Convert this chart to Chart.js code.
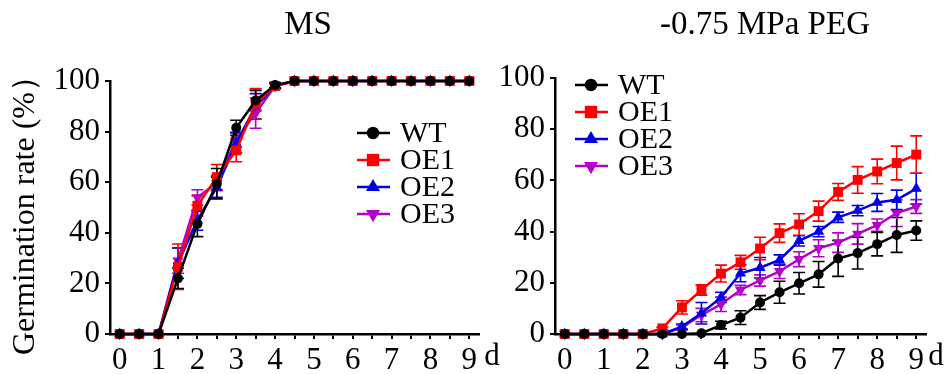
<!DOCTYPE html>
<html>
<head>
<meta charset="utf-8">
<script src="https://cdn.jsdelivr.net/npm/chart.js@4.4.1/dist/chart.umd.min.js"></script>
<style>
  html, body { margin: 0; padding: 0; background: #fff; }
  #wrap { position: relative; width: 945px; height: 374px; }
  canvas { position: absolute; top: 0; }
</style>
</head>
<body>
<div id="wrap">
  <canvas id="msChart" width="500" height="374" style="left:0"></canvas>
  <canvas id="pegChart" width="445" height="374" style="left:500px"></canvas>
</div>
<script>
// days after sowing
const days = [0, 0.5, 1, 1.5, 2, 2.5, 3, 3.5, 4, 4.5, 5, 5.5, 6, 6.5, 7, 7.5, 8, 8.5, 9];
const lines = ['WT', 'OE1', 'OE2', 'OE3'];
const yTicks = [0, 20, 40, 60, 80, 100];

// MS
const msWT     = [0, 0, 0, 22, 43.5, 59.4, 81.5, 92.3, 98.4, 100, 100, 100, 100, 100, 100, 100, 100, 100, 100];
const msWTErr  = [0, 0, 0, 4, 5, 6, 3, 4, 1, 0, 0, 0, 0, 0, 0, 0, 0, 0, 0];
const msOE1    = [0, 0, 0, 26.6, 50.7, 62, 72.6, 91, 98, 100, 100, 100, 100, 100, 100, 100, 100, 100, 100];
const msOE1Err = [0, 0, 0, 9, 4, 5, 4.5, 6, 1, 0, 0, 0, 0, 0, 0, 0, 0, 0, 0];
const msOE2    = [0, 0, 0, 28, 45, 58, 75.5, 90, 98, 100, 100, 100, 100, 100, 100, 100, 100, 100, 100];
const msOE2Err = [0, 0, 0, 6, 4, 4, 4, 5, 1, 0, 0, 0, 0, 0, 0, 0, 0, 0, 0];
const msOE3    = [0, 0, 0, 29, 54, 59.6, 76.8, 87.3, 98, 100, 100, 100, 100, 100, 100, 100, 100, 100, 100];
const msOE3Err = [0, 0, 0, 5, 3, 3, 3, 6, 1, 0, 0, 0, 0, 0, 0, 0, 0, 0, 0];

// -0.75 MPa PEG
const pegWT     = [0, 0, 0, 0, 0, 0, 0, 0.3, 3.5, 6.4, 12.3, 16.3, 19.8, 23.3, 29.5, 31.6, 35.1, 38.7, 40.4];
const pegWTErr  = [0, 0, 0, 0, 0, 0, 0, 0, 1.5, 2.7, 2.7, 4.3, 4.2, 5, 7, 6.2, 4.6, 6.8, 3.8];
const pegOE1    = [0, 0, 0, 0, 0, 2.2, 10.4, 17.2, 23.6, 28, 33.4, 39.4, 42.8, 48, 55.5, 60.2, 63.5, 66.8, 70.1];
const pegOE1Err = [0, 0, 0, 0, 0, 0.5, 2.6, 2, 3.3, 2.7, 4.4, 3.6, 4.2, 3.9, 3.3, 5.2, 4.8, 6.6, 7.3];
const pegOE2    = [0, 0, 0, 0, 0, 0, 2.9, 8.1, 14.3, 23.7, 25.9, 28.9, 36.4, 40, 45.6, 48.2, 51.4, 52.4, 56.8];
const pegOE2Err = [0, 0, 0, 0, 0, 0, 1, 4.2, 2, 3.3, 4, 2, 2, 2, 2, 2, 3.5, 3.8, 6];
const pegOE3    = [0, 0, 0, 0, 0, 0, 2.6, 7.4, 11.6, 17.2, 20.9, 24.5, 29.2, 33.5, 35.7, 39.1, 42.5, 47.2, 49.8];
const pegOE3Err = [0, 0, 0, 0, 0, 0, 1, 2.6, 2.8, 1.8, 2.2, 2.8, 2.9, 3.3, 3.8, 4, 2.4, 5.2, 2.7];

const FONT = "'Liberation Serif', 'Times New Roman', serif";
const colors = ['#000000', '#ff0000', '#0000e6', '#b400c8'];
const shapes = [
  { pointStyle: 'circle', radius: 5, rotation: 0 },
  { pointStyle: 'rect', radius: 7, rotation: 0 },
  { pointStyle: 'triangle', radius: 6.5, rotation: 0 },
  { pointStyle: 'triangle', radius: 6.5, rotation: 180 },
];

function makeDatasets(values, errors) {
  return lines.map((name, i) => ({
    label: name,
    data: days.map((d, j) => ({ x: d, y: values[i][j] })),
    errors: errors[i],
    borderColor: colors[i],
    backgroundColor: colors[i],
    borderWidth: 2.5,
    pointStyle: shapes[i].pointStyle,
    pointRadius: shapes[i].radius,
    pointRotation: shapes[i].rotation,
    pointBorderWidth: 0,
    tension: 0,
    clip: false,
  }));
}

const errorBars = {
  id: 'errorBars',
  beforeDatasetsDraw(chart) {
    const ctx = chart.ctx;
    const yScale = chart.scales.y;
    for (let i = chart.data.datasets.length - 1; i >= 0; i--) {
      const ds = chart.data.datasets[i];
      const meta = chart.getDatasetMeta(i);
      ctx.save();
      ctx.strokeStyle = ds.borderColor;
      ctx.lineWidth = 1.6;
      meta.data.forEach((pt, j) => {
        const e = ds.errors[j];
        if (!e) return;
        const v = ds.data[j].y;
        const top = yScale.getPixelForValue(v + e);
        const bot = yScale.getPixelForValue(v - e);
        ctx.beginPath();
        ctx.moveTo(pt.x, top); ctx.lineTo(pt.x, bot);
        ctx.moveTo(pt.x - 6, top); ctx.lineTo(pt.x + 6, top);
        ctx.moveTo(pt.x - 6, bot); ctx.lineTo(pt.x + 6, bot);
        ctx.stroke();
      });
      ctx.restore();
    }
  }
};

// panel title, day unit and legend
const decor = {
  id: 'decor',
  afterDraw(chart, args, opts) {
    const ctx = chart.ctx;
    ctx.save();
    ctx.fillStyle = '#000';
    ctx.textBaseline = 'middle';
    ctx.textAlign = 'center';
    ctx.font = '33px ' + FONT;
    ctx.fillText(opts.title, opts.titleX, 25);
    ctx.font = '31px ' + FONT;
    ctx.fillText('d', opts.unitX, 357);

    ctx.textAlign = 'left';
    ctx.font = '30px ' + FONT;
    chart.data.datasets.forEach((ds, i) => {
      const y = opts.legendY + i * 27;
      ctx.strokeStyle = ds.borderColor;
      ctx.lineWidth = 2.5;
      ctx.beginPath();
      ctx.moveTo(opts.legendX, y);
      ctx.lineTo(opts.legendX + 33, y);
      ctx.stroke();
      ctx.fillStyle = ds.borderColor;
      Chart.helpers.drawPoint(ctx, {
        pointStyle: ds.pointStyle,
        rotation: ds.pointRotation,
        radius: shapes[i].radius * 1.25,
        borderWidth: 0,
      }, opts.legendX + 16, y);
      ctx.fillStyle = '#000';
      ctx.fillText(ds.label, opts.legendX + 43, y + 1);
    });
    ctx.restore();
  }
};

function makeChart(id, datasets, cfg) {
  return new Chart(document.getElementById(id), {
    type: 'line',
    data: { datasets },
    options: {
      responsive: false,
      animation: false,
      events: [],
      layout: { padding: { left: 0, right: cfg.padRight, top: cfg.padTop, bottom: 0 } },
      plugins: {
        legend: { display: false },
        tooltip: { enabled: false },
        decor: cfg.decor,
      },
      scales: {
        x: {
          type: 'linear',
          min: -0.25,
          max: 9.25,
          afterFit(scale) { scale.height = 40; },
          afterBuildTicks(scale) { scale.ticks = days.map(v => ({ value: v })); },
          border: { color: '#000', width: 2.5 },
          grid: { drawOnChartArea: false, drawTicks: true, tickLength: 5, color: '#000', lineWidth: 2 },
          ticks: {
            autoSkip: false,
            maxRotation: 0,
            padding: 3,
            color: '#000',
            font: { family: FONT, size: 31 },
            callback: v => (Number.isInteger(v) ? String(v) : ''),
          },
        },
        y: {
          min: 0,
          max: 100,
          afterFit(scale) { scale.width = cfg.axisWidth; },
          afterBuildTicks(scale) { scale.ticks = yTicks.map(v => ({ value: v })); },
          border: { color: '#000', width: 2.5 },
          grid: { drawOnChartArea: false, drawTicks: true, tickLength: 5, color: '#000', lineWidth: 2 },
          ticks: {
            padding: 5,
            color: '#000',
            font: { family: FONT, size: 31 },
          },
          title: {
            display: cfg.showTitle,
            text: 'Germination rate (%）',
            color: '#000',
            font: { family: FONT, size: 32 },
            padding: { top: 6, bottom: 0 },
          },
        },
      },
    },
    plugins: [errorBars, decor],
  });
}

makeChart('msChart',
  makeDatasets([msWT, msOE1, msOE2, msOE3], [msWTErr, msOE1Err, msOE2Err, msOE3Err]),
  {
    padRight: 21, padTop: 81, axisWidth: 110, showTitle: true,
    decor: { title: 'MS', titleX: 308, unitX: 492, legendX: 357, legendY: 133 },
  });

makeChart('pegChart',
  makeDatasets([pegWT, pegOE1, pegOE2, pegOE3], [pegWTErr, pegOE1Err, pegOE2Err, pegOE3Err]),
  {
    padRight: 19, padTop: 78, axisWidth: 55, showTitle: false,
    decor: { title: '-0.75 MPa PEG', titleX: 265, unitX: 436, legendX: 75, legendY: 85 },
  });
</script>
</body>
</html>
